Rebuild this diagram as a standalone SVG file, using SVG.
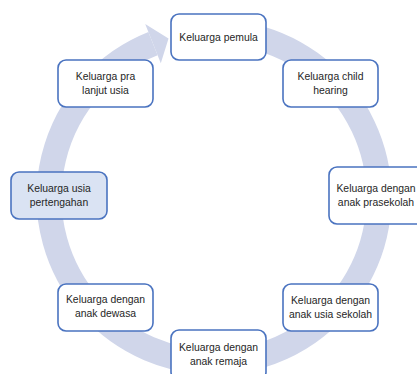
<svg xmlns="http://www.w3.org/2000/svg" width="417" height="374" viewBox="0 0 417 374">
<style>
.box{fill:#ffffff;stroke:#4a73c0;stroke-width:1.6}
.hl{fill:#dae3f3}
.t{font-family:"Liberation Sans",Arial,sans-serif;font-size:10.4px;fill:#262626;text-anchor:middle}
.ring{fill:none;stroke:#d0d6ea;stroke-width:25}
.head{fill:#d0d6ea}
</style>
<rect width="417" height="374" fill="#ffffff"/>
<g id="connectors">
<path class="ring" d="M242.65,34.51 A165,165 0 1 1 153.0,43.7"/>
<polygon class="head" points="145.2,24.1 168.5,38.4 160.8,63.3"/>
</g>
<g id="n-pemula"><rect class="box" x="171" y="14" width="95" height="46" rx="8"/><text class="t" x="218.5" y="40.5">Keluarga pemula</text></g>
<g id="n-child"><rect class="box" x="283" y="60" width="95" height="47" rx="8"/><text class="t" x="330.5" y="80">Keluarga child</text><text class="t" x="330.5" y="94">hearing</text></g>
<g id="n-prasekolah"><rect class="box" x="329" y="167" width="96" height="57" rx="8"/><text class="t" x="376" y="192">Keluarga dengan</text><text class="t" x="376" y="206">anak prasekolah</text></g>
<g id="n-sekolah"><rect class="box" x="283" y="284" width="95" height="47" rx="8"/><text class="t" x="330.5" y="304">Keluarga dengan</text><text class="t" x="330.5" y="318">anak usia sekolah</text></g>
<g id="n-remaja"><rect class="box" x="171" y="330" width="95" height="50" rx="8"/><text class="t" x="218.5" y="351">Keluarga dengan</text><text class="t" x="218.5" y="365">anak remaja</text></g>
<g id="n-dewasa"><rect class="box" x="58" y="284" width="95" height="47" rx="8"/><text class="t" x="105.5" y="303">Keluarga dengan</text><text class="t" x="105.5" y="317">anak dewasa</text></g>
<g id="n-pertengahan"><rect class="box hl" x="11" y="172" width="96" height="47" rx="8"/><text class="t" x="59" y="192">Keluarga usia</text><text class="t" x="59" y="206">pertengahan</text></g>
<g id="n-pra"><rect class="box" x="58" y="60" width="95" height="47" rx="8"/><text class="t" x="105.5" y="80">Keluarga pra</text><text class="t" x="105.5" y="94">lanjut usia</text></g>
</svg>
